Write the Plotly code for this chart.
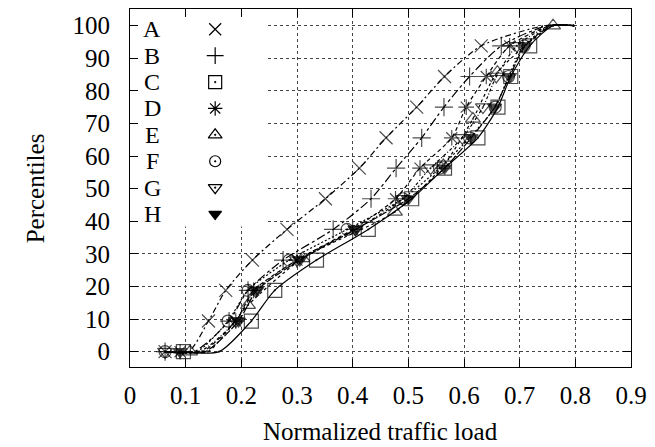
import plotly.graph_objects as go

# ---------------- data ----------------
series_names = ["A", "B", "C", "D", "E", "F", "G", "H"]

# percentile levels at which markers are drawn (all series except E)
levels = [0, 9.4, 18.8, 28.1, 37.5, 46.9, 56.3, 65.6, 75.0, 84.4, 93.8]
# series E has markers at a coarser spacing
levels_E = [0, 14.3, 28.6, 42.9, 57.1, 71.4, 85.7, 100]

A_x = [0.063, 0.141, 0.172, 0.220, 0.282, 0.351, 0.412, 0.460, 0.515, 0.565, 0.631]
B_x = [0.063, 0.178, 0.212, 0.275, 0.365, 0.433, 0.478, 0.524, 0.564, 0.610, 0.667]
C_x = [0.096, 0.218, 0.260, 0.335, 0.428, 0.506, 0.565, 0.625, 0.661, 0.684, 0.718]
D_x = [0.090, 0.190, 0.222, 0.300, 0.400, 0.477, 0.521, 0.578, 0.604, 0.640, 0.682]
E_x = [0.108, 0.212, 0.310, 0.476, 0.563, 0.616, 0.660, 0.760]
F_x = [0.063, 0.176, 0.212, 0.286, 0.390, 0.490, 0.556, 0.610, 0.656, 0.680, 0.708]
G_x = [0.063, 0.190, 0.225, 0.300, 0.405, 0.490, 0.540, 0.597, 0.634, 0.658, 0.695]
H_x = [0.090, 0.195, 0.228, 0.305, 0.405, 0.500, 0.565, 0.613, 0.655, 0.682, 0.710]

# unmarked curve points: where each curve leaves 0 and where it reaches 100
knee_x = [0.105, 0.115, 0.160, 0.130, 0.140, 0.120, 0.125, 0.135]
top_x = [0.745, 0.750, 0.760, 0.755, None, 0.755, 0.755, 0.758]
end_x = 0.797

x_ticks = [0, 0.1, 0.2, 0.3, 0.4, 0.5, 0.6, 0.7, 0.8, 0.9]
x_tick_text = ["0", "0.1", "0.2", "0.3", "0.4", "0.5", "0.6", "0.7", "0.8", "0.9"]
y_ticks = [0, 10, 20, 30, 40, 50, 60, 70, 80, 90, 100]

# ---------------- styles ----------------
symbols = ["x-thin-open", "cross-thin-open", "square-open-dot", "asterisk-open",
           "triangle-up-open-dot", "circle-open-dot", "triangle-down-open-dot",
           "triangle-down"]
msizes = [13, 13, 14, 13, 13, 12, 13, 12]
dashes = ["6px,3px,2px,3px", "dashdot", "solid", "4px,3px", "dot",
          "2px,2px", "3px,2px,1px,2px", "8px,2px"]
FONT = "Liberation Serif"

fig = go.Figure()

all_x = [A_x, B_x, C_x, D_x, E_x, F_x, G_x, H_x]
for i, name in enumerate(series_names):
    xs = all_x[i]
    ys = levels_E if name == "E" else levels
    px = [xs[0], knee_x[i]] + xs[1:]
    py = [ys[0], ys[0]] + ys[1:]
    sz = [msizes[i], 0] + [msizes[i]] * (len(xs) - 1)
    if top_x[i] is not None:
        px = px + [top_x[i]]
        py = py + [100]
        sz = sz + [0]
    px = px + [end_x]
    py = py + [100]
    sz = sz + [0]
    fig.add_trace(go.Scatter(
        x=px, y=py, mode="lines+markers", name=name, showlegend=False,
        line=dict(color="black", width=1.2, dash=dashes[i], shape="spline", smoothing=0.7),
        marker=dict(symbol=symbols[i], size=sz, color="black",
                    line=dict(color="black", width=1.2)),
    ))

# ---------------- gnuplot-style key (text then symbol) ----------------
key_text_x = 0.040
key_sym_x = 0.153
key_top = 98.9
key_step = 8.1
for i, name in enumerate(series_names):
    yk = key_top - key_step * i
    fig.add_annotation(x=key_text_x, y=yk, text=name, showarrow=False,
                       xanchor="center", yanchor="middle",
                       font=dict(family=FONT, size=24, color="black"))
    fig.add_trace(go.Scatter(
        x=[key_sym_x], y=[yk], mode="markers", showlegend=False, hoverinfo="skip",
        marker=dict(symbol=symbols[i], size=msizes[i] - 1, color="black",
                    line=dict(color="black", width=1.2)),
    ))

fig.add_shape(type="rect", xref="x", yref="y", x0=0, x1=0.246, y0=38.4, y1=105.1,
              fillcolor="white", line=dict(width=0), layer="between")

axis_common = dict(
    showline=True, linecolor="black", linewidth=1, mirror="ticks",
    ticks="inside", ticklen=8, tickwidth=1, tickcolor="black",
    showgrid=True, gridcolor="#444444", griddash="dot", gridwidth=1,
    zeroline=False, tickfont=dict(family=FONT, size=25, color="black"),
)
fig.update_xaxes(range=[0, 0.9], tickvals=x_ticks, ticktext=x_tick_text,
                 ticklabelstandoff=6, **axis_common)
fig.update_yaxes(range=[-4.7, 105.1], tickvals=y_ticks,
                 ticklabelstandoff=14, **axis_common)

fig.add_annotation(xref="paper", yref="paper", x=0.5, y=-0.181,
                   text="Normalized traffic load", showarrow=False,
                   xanchor="center", yanchor="middle",
                   font=dict(family=FONT, size=25, color="black"))
fig.add_annotation(xref="paper", yref="paper", x=-0.189, y=0.5,
                   text="Percentiles", showarrow=False, textangle=-90,
                   xanchor="center", yanchor="middle",
                   font=dict(family=FONT, size=25, color="black"))

fig.update_layout(
    width=655, height=447,
    margin=dict(l=130, r=21, t=8, b=80),
    plot_bgcolor="white", paper_bgcolor="white",
    showlegend=False,
)

fig.write_html("out.html")
